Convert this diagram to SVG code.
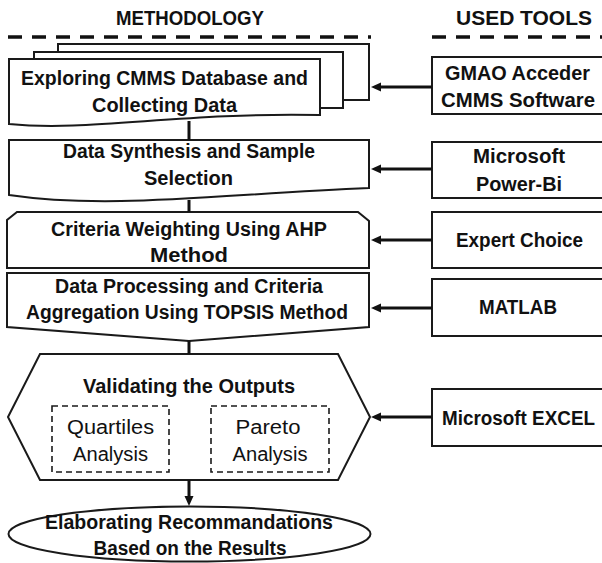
<svg xmlns="http://www.w3.org/2000/svg" width="602" height="563" viewBox="0 0 602 563">
  <style>
    .shape { fill: #fff; stroke: #1a1a1a; stroke-width: 2; stroke-linejoin: miter; }
    .dash { fill: none; stroke: #1a1a1a; stroke-width: 1.6; stroke-dasharray: 6 4; }
    .rule { fill: none; stroke: #111; stroke-width: 3.5; stroke-dasharray: 14 10; }
    .link { fill: none; stroke: #111; stroke-width: 3; }
    .t { font-family: "Liberation Sans", Arial, sans-serif; font-weight: bold; font-size: 19.5px; fill: #111; text-anchor: middle; }
    .r { font-family: "Liberation Sans", Arial, sans-serif; font-size: 19.5px; fill: #111; text-anchor: middle; }
  </style>
  <defs>
    <marker id="head" markerUnits="userSpaceOnUse" viewBox="0 -5 11 10" refX="0" refY="0" markerWidth="11" markerHeight="10" orient="auto" overflow="visible">
      <path d="M0,-4.5 L10,0 L0,4.5 Z" fill="#111"/>
    </marker>
  </defs>

  <!-- column headers -->
  <g id="headers">
    <text class="t" x="190" y="25" textLength="148" lengthAdjust="spacingAndGlyphs">METHODOLOGY</text>
    <text class="t" x="524" y="25" textLength="136" lengthAdjust="spacingAndGlyphs">USED TOOLS</text>
    <line class="rule" x1="8" y1="37" x2="371" y2="37"/>
    <line class="rule" x1="432" y1="37" x2="602" y2="37"/>
  </g>

  <!-- methodology steps -->
  <g id="step-explore">
    <rect class="shape" x="58" y="44" width="311" height="56"/>
    <rect class="shape" x="34" y="52" width="309" height="56"/>
    <path class="shape" d="M9,59 H320 V115 C180,112 90,132 9,124 Z"/>
    <text class="t" x="164.5" y="85" textLength="287" lengthAdjust="spacingAndGlyphs">Exploring CMMS Database and</text>
    <text class="t" x="164.5" y="112" textLength="145" lengthAdjust="spacingAndGlyphs">Collecting Data</text>
  </g>

  <g id="step-synthesis">
    <path class="shape" d="M9,140 H369 V188 C220,194 110,210 9,195 Z"/>
    <text class="t" x="189" y="158" textLength="252" lengthAdjust="spacingAndGlyphs">Data Synthesis and Sample</text>
    <text class="t" x="188.5" y="185" textLength="89" lengthAdjust="spacingAndGlyphs">Selection</text>
  </g>

  <g id="step-weighting">
    <path class="shape" d="M17,212 H358 L369,221 V268 H7 V220 Z"/>
    <text class="t" x="189" y="236" textLength="276" lengthAdjust="spacingAndGlyphs">Criteria Weighting Using AHP</text>
    <text class="t" x="189" y="262" textLength="78" lengthAdjust="spacingAndGlyphs">Method</text>
  </g>

  <g id="step-topsis">
    <path class="shape" d="M7,273 H369 V327 L189,341 L7,327 Z"/>
    <text class="t" x="189" y="293" textLength="268" lengthAdjust="spacingAndGlyphs">Data Processing and Criteria</text>
    <text class="t" x="187" y="319" textLength="322" lengthAdjust="spacingAndGlyphs">Aggregation Using TOPSIS Method</text>
  </g>

  <g id="step-validate">
    <path class="shape" d="M40,354 H338 L370,417 L338,480 H40 L8,417 Z"/>
    <text class="t" x="189" y="393" textLength="212" lengthAdjust="spacingAndGlyphs">Validating the Outputs</text>
    <g id="quartiles">
      <rect class="dash" x="52" y="406" width="117" height="66"/>
      <text class="r" x="110.5" y="434" textLength="87" lengthAdjust="spacingAndGlyphs">Quartiles</text>
      <text class="r" x="110.5" y="461" textLength="75" lengthAdjust="spacingAndGlyphs">Analysis</text>
    </g>
    <g id="pareto">
      <rect class="dash" x="211" y="406" width="118" height="66"/>
      <text class="r" x="268" y="434" textLength="65" lengthAdjust="spacingAndGlyphs">Pareto</text>
      <text class="r" x="270" y="461" textLength="75" lengthAdjust="spacingAndGlyphs">Analysis</text>
    </g>
  </g>

  <g id="step-recommend">
    <ellipse class="shape" cx="189.5" cy="534" rx="181" ry="27.5"/>
    <text class="t" x="189" y="529" textLength="288" lengthAdjust="spacingAndGlyphs">Elaborating Recommandations</text>
    <text class="t" x="190" y="555" textLength="193" lengthAdjust="spacingAndGlyphs">Based on the Results</text>
  </g>

  <!-- tools -->
  <g id="tool-gmao">
    <rect class="shape" x="432" y="57" width="180" height="57"/>
    <text class="t" x="517.5" y="80" textLength="145" lengthAdjust="spacingAndGlyphs">GMAO Acceder</text>
    <text class="t" x="518" y="107" textLength="154" lengthAdjust="spacingAndGlyphs">CMMS Software</text>
  </g>
  <g id="tool-powerbi">
    <rect class="shape" x="432" y="142" width="180" height="56"/>
    <text class="t" x="519" y="163" textLength="92" lengthAdjust="spacingAndGlyphs">Microsoft</text>
    <text class="t" x="519" y="191" textLength="86" lengthAdjust="spacingAndGlyphs">Power-Bi</text>
  </g>
  <g id="tool-expert">
    <rect class="shape" x="432" y="212" width="180" height="56"/>
    <text class="t" x="519.5" y="247" textLength="127" lengthAdjust="spacingAndGlyphs">Expert Choice</text>
  </g>
  <g id="tool-matlab">
    <rect class="shape" x="432" y="279" width="180" height="57"/>
    <text class="t" x="518" y="314" textLength="78" lengthAdjust="spacingAndGlyphs">MATLAB</text>
  </g>
  <g id="tool-excel">
    <rect class="shape" x="432" y="389" width="180" height="57"/>
    <text class="t" x="518.5" y="425" textLength="153" lengthAdjust="spacingAndGlyphs">Microsoft EXCEL</text>
  </g>

  <!-- connectors -->
  <g id="connectors">
    <line class="link" x1="189" y1="121" x2="189" y2="140"/>
    <line class="link" x1="189" y1="200" x2="189" y2="212"/>
    <line class="link" x1="189" y1="341" x2="189" y2="354"/>
    <line class="link" x1="189" y1="480" x2="189" y2="496" marker-end="url(#head)"/>
    <line class="link" x1="432" y1="87" x2="381" y2="87" marker-end="url(#head)"/>
    <line class="link" x1="432" y1="169" x2="381" y2="169" marker-end="url(#head)"/>
    <line class="link" x1="432" y1="240" x2="381" y2="240" marker-end="url(#head)"/>
    <line class="link" x1="432" y1="308" x2="381" y2="308" marker-end="url(#head)"/>
    <line class="link" x1="432" y1="417" x2="381" y2="417" marker-end="url(#head)"/>
  </g>
</svg>
